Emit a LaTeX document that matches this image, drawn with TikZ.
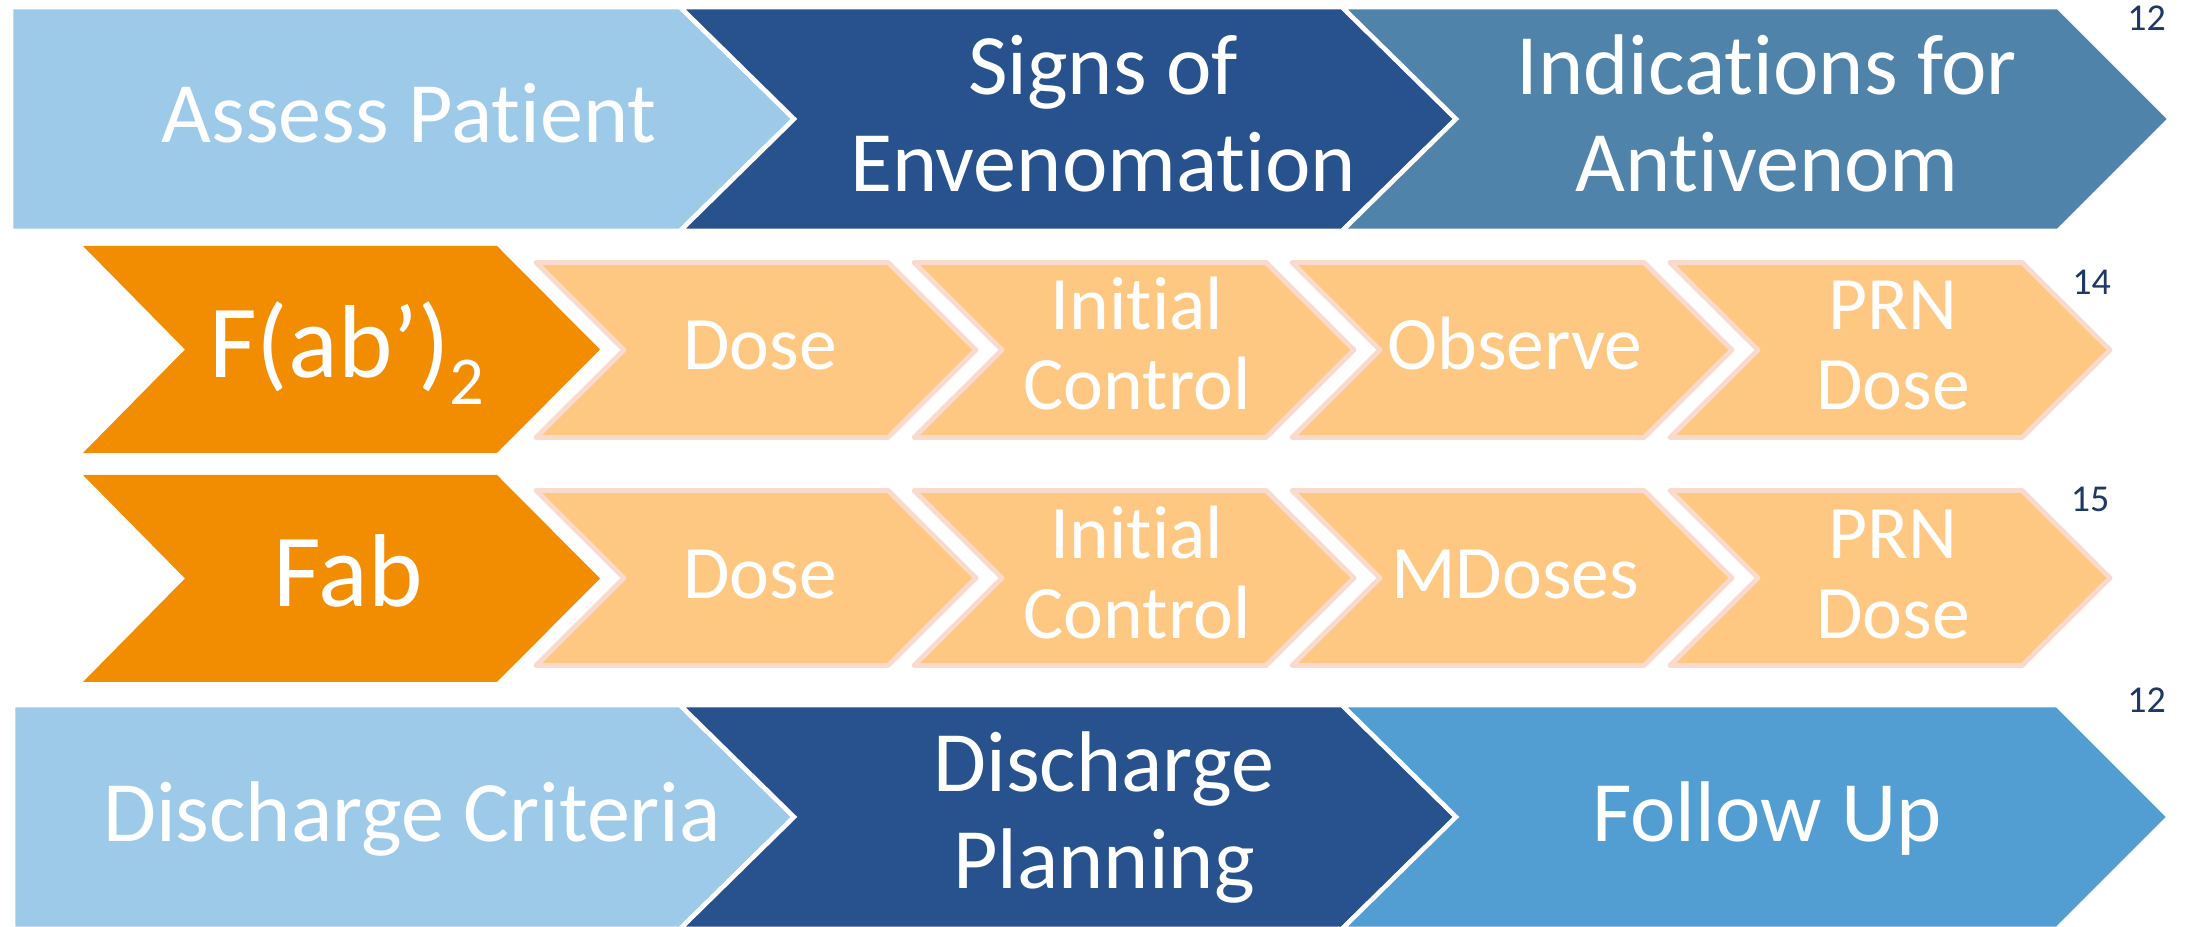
\documentclass[tikz,border=0pt]{standalone}
\usepackage{fontspec}
\setmainfont{Carlito}[Ligatures=NoCommon]
\definecolor{paleblue}{RGB}{157,202,233}
\definecolor{deepblue}{RGB}{40,82,141}
\definecolor{steelblue}{RGB}{80,131,170}
\definecolor{brightblue}{RGB}{82,158,210}
\definecolor{fragorange}{RGB}{242,140,0}
\definecolor{doseorange}{RGB}{255,200,130}
\definecolor{doseedge}{RGB}{249,218,204}
\definecolor{refnavy}{RGB}{31,56,100}

% chevron: left x, body right x, mid y, half height, point depth, notch depth
\newcommand{\chevpath}[6]{(#1,#3+#4) -- (#2,#3+#4) -- (#2+#5,#3) -- (#2,#3-#4) -- (#1,#3-#4) -- (#1+#6,#3) -- cycle}

\begin{document}
\begin{tikzpicture}[
    bandbox/.style={draw=white,line width=1.3pt},
    dosebox/.style={fill=doseorange,draw=doseedge,line width=1.4pt,line join=round},
    bigtext/.style={font=\fontsize{24.5}{27.6}\selectfont,text=white,align=center,inner sep=0pt,anchor=base},
    dosetext/.style={font=\fontsize{21.5}{22.8}\selectfont,text=white,align=center,inner sep=0pt,anchor=base},
    fragtext/.style={font=\fontsize{29.5}{32}\selectfont,text=white,inner sep=0pt,anchor=base},
    reftext/.style={font=\fontsize{10.8}{12}\selectfont,text=refnavy,inner sep=0pt,anchor=base}]
  \useasboundingbox (0,0) rectangle (21.88,9.27);

  % top band (two-line labels sit on their last baseline)
  \filldraw[fill=paleblue,bandbox] \chevpath{0.11}{6.80}{8.08}{1.12}{1.14}{0};
  \filldraw[fill=deepblue,bandbox] \chevpath{6.80}{13.42}{8.08}{1.12}{1.14}{1.14};
  \filldraw[fill=steelblue,bandbox] \chevpath{13.42}{20.58}{8.08}{1.12}{1.12}{1.14};
  \node[bigtext] (assess) at (4.09,7.84) {Assess Patient};
  \node[bigtext] (signs) at (11.03,7.35) {Signs of\\Envenomation};
  \node[bigtext] (indic) at (17.67,7.35) {Indications for\\Antivenom};
  \node[reftext] (refA) at (21.465,8.96) {12};

  % antivenom rows
  \fill[fragorange] \chevpath{0.83}{4.97}{5.775}{1.035}{1.03}{1.02};
  \fill[fragorange] \chevpath{0.83}{4.97}{3.485}{1.035}{1.03}{1.02};
  \foreach \x in {5.36,9.14,12.92,16.70}{
    \filldraw[dosebox] \chevpath{\x}{\x+3.52}{5.77}{0.875}{0.88}{0.88};
    \filldraw[dosebox] \chevpath{\x}{\x+3.52}{3.49}{0.875}{0.88}{0.88};
  }
  \node[fragtext] (fabtwo) at (3.47,5.49) {F(ab’)\raisebox{-0.27cm}{\fontsize{19.5}{20}\selectfont 2}};
  \node[dosetext] (doseA) at (7.60,5.57) {Dose};
  \node[dosetext] (initA) at (11.37,5.17) {Initial\\Control};
  \node[dosetext] (observe) at (15.15,5.57) {Observe};
  \node[dosetext] (prnA) at (18.93,5.17) {PRN\\Dose};
  \node[reftext] (refB) at (20.915,6.32) {14};

  \node[fragtext] (fab) at (3.48,3.20) {Fab};
  \node[dosetext] (doseB) at (7.60,3.28) {Dose};
  \node[dosetext] (initB) at (11.37,2.88) {Initial\\Control};
  \node[dosetext] (mdoses) at (15.15,3.28) {MDoses};
  \node[dosetext] (prnB) at (18.93,2.88) {PRN\\Dose};
  \node[reftext] (refC) at (20.90,4.15) {15};

  % bottom band
  \filldraw[fill=paleblue,bandbox] \chevpath{0.13}{6.80}{1.10}{1.12}{1.14}{0};
  \filldraw[fill=deepblue,bandbox] \chevpath{6.80}{13.42}{1.10}{1.12}{1.14}{1.14};
  \filldraw[fill=brightblue,bandbox] \chevpath{13.42}{20.57}{1.10}{1.12}{1.12}{1.14};
  \node[bigtext] (criteria) at (4.12,0.85) {Discharge Criteria};
  \node[bigtext] (planning) at (11.04,0.38) {Discharge\\Planning};
  \node[bigtext] (follow) at (17.67,0.85) {Follow Up};
  \node[reftext] (refD) at (21.465,2.14) {12};
\end{tikzpicture}
\end{document}
